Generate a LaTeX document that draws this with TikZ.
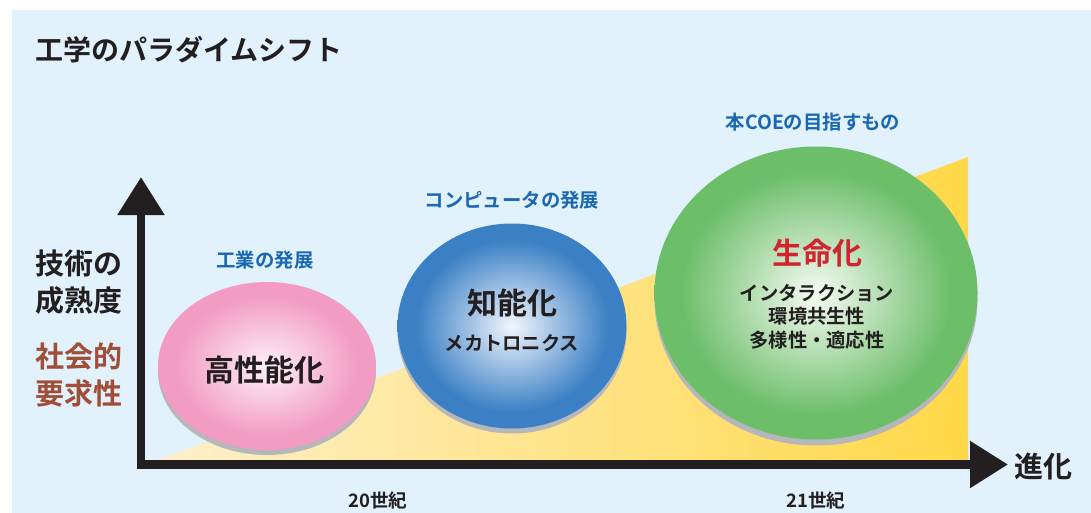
\documentclass[tikz,border=0pt]{standalone}
\usepackage{fontspec}
\usetikzlibrary{shapes.geometric,arrows.meta}
\newfontfamily\jpb{Noto Sans CJK JP Bold}
\definecolor{panel}{HTML}{E1F2FC}
\definecolor{axisblack}{HTML}{231F20}
\definecolor{capblue}{HTML}{1B68B2}
\definecolor{lifered}{HTML}{D3232E}
\definecolor{socbrown}{HTML}{A14E38}
\definecolor{shadowgrey}{HTML}{B6B7BB}
\definecolor{pinkE}{HTML}{F29BC3}
\definecolor{pinkC}{HTML}{FDF1F7}
\definecolor{blueE}{HTML}{3B80C5}
\definecolor{blueC}{HTML}{F2F6FD}
\definecolor{greenE}{HTML}{6CBE69}
\definecolor{greenC}{HTML}{F6FBF3}
\definecolor{yelL}{HTML}{FDF0CC}
\definecolor{yelR}{HTML}{FFD847}
\pgfdeclareradialshading{pinkball}{\pgfpoint{0bp}{0bp}}{color(0bp)=(pinkC); color(21bp)=(pinkE); color(25bp)=(pinkE); color(50bp)=(pinkE)}
\pgfdeclareradialshading{blueball}{\pgfpoint{0bp}{0bp}}{color(0bp)=(blueC); color(21bp)=(blueE); color(25bp)=(blueE); color(50bp)=(blueE)}
\pgfdeclareradialshading{greenball}{\pgfpoint{0bp}{0bp}}{color(0bp)=(greenC); color(21bp)=(greenE); color(25bp)=(greenE); color(50bp)=(greenE)}
\tikzset{
  ball/.style={ellipse, inner sep=0pt, outer sep=0pt},
  ballshadow/.style={ball, fill=shadowgrey},
  axisline/.style={draw=axisblack, line width=8.5pt, line join=miter,
    arrows={Triangle[width=45pt,length=38pt,fill=axisblack]-Triangle[width=45pt,length=38pt,fill=axisblack]}},
  txt/.style={inner sep=0pt, outer sep=0pt, font=\jpb},
  caption/.style={txt, text=capblue, font=\jpb\fontsize{19.4}{22}\selectfont},
  bigname/.style={txt, text=axisblack, font=\jpb\fontsize{30}{32}\selectfont},
  subname/.style={txt, text=axisblack, align=center, font=\jpb\fontsize{19.3}{23.5}\selectfont},
  sidelabel/.style={txt, align=center, font=\jpb\fontsize{29}{37}\selectfont},
  century/.style={txt, text=axisblack, font=\jpb\fontsize{18.5}{20}\selectfont},
}
\begin{document}
\begin{tikzpicture}[x=1pt,y=-1pt]
\useasboundingbox (0,0) rectangle (1091,513);
\fill[white] (0,0) rectangle (1091,513);
\fill[panel] (12,10) rectangle (1091,513);
% title
\node[txt, anchor=west, text=axisblack, font=\jpb\fontsize{28}{30}\selectfont] (title) at (35,49.5) {工学のパラダイムシフト};
% yellow wedge
\shade[left color=yelL, right color=yelR] (153,462) -- (968,157) -- (968,464) -- (153,464) -- cycle;
% balls with shadows
\node[ballshadow, minimum width=218pt, minimum height=168pt] (pinkshadow) at (267,371) {};
\node[ball, shading=pinkball, minimum width=218pt, minimum height=168pt] (pink) at (267,366) {};
\node[ballshadow, minimum width=229pt, minimum height=205pt] (blueshadow) at (512,331) {};
\node[ball, shading=blueball, minimum width=229pt, minimum height=205pt] (blue) at (512,326) {};
\node[ballshadow, minimum width=323pt, minimum height=293pt] (greenshadow) at (816,299) {};
\node[ball, shading=greenball, minimum width=323pt, minimum height=293pt] (green) at (816,293) {};
% axes
\coordinate (origin) at (141,464.5);
\coordinate (ytip) at (141,177);
\coordinate (xtip) at (1008,464.5);
\draw[axisline] (ytip) -- (origin) -- (xtip);
% captions
\node[caption] (capA) at (265,260) {工業の発展};
\node[caption] (capB) at (512,200.5) {コンピュータの発展};
\node[caption] (capC) at (813,122.5) {本COEの目指すもの};
% ball labels
\node[bigname] (nameA) at (264,370) {高性能化};
\node[bigname] (nameB) at (512,303) {知能化};
\node[subname] (subB) at (512,343) {メカトロニクス};
\node[bigname, text=lifered] (nameC) at (817,253) {生命化};
\node[subname] (subC) at (817,316.5) {インタラクション\\環境共生性\\多様性・適応性};
% side labels
\node[sidelabel, text=axisblack] (tech) at (79,282) {技術の\\成熟度};
\node[sidelabel, text=socbrown] (soc) at (79,375.5) {社会的\\要求性};
% x axis label and centuries
\node[txt, anchor=west, text=axisblack, font=\jpb\fontsize{29}{31}\selectfont] (evo) at (1014,466.5) {進化};
\node[century] (c20) at (378,500.5) {20世紀};
\node[century] (c21) at (816,500.5) {21世紀};
\end{tikzpicture}
\end{document}
